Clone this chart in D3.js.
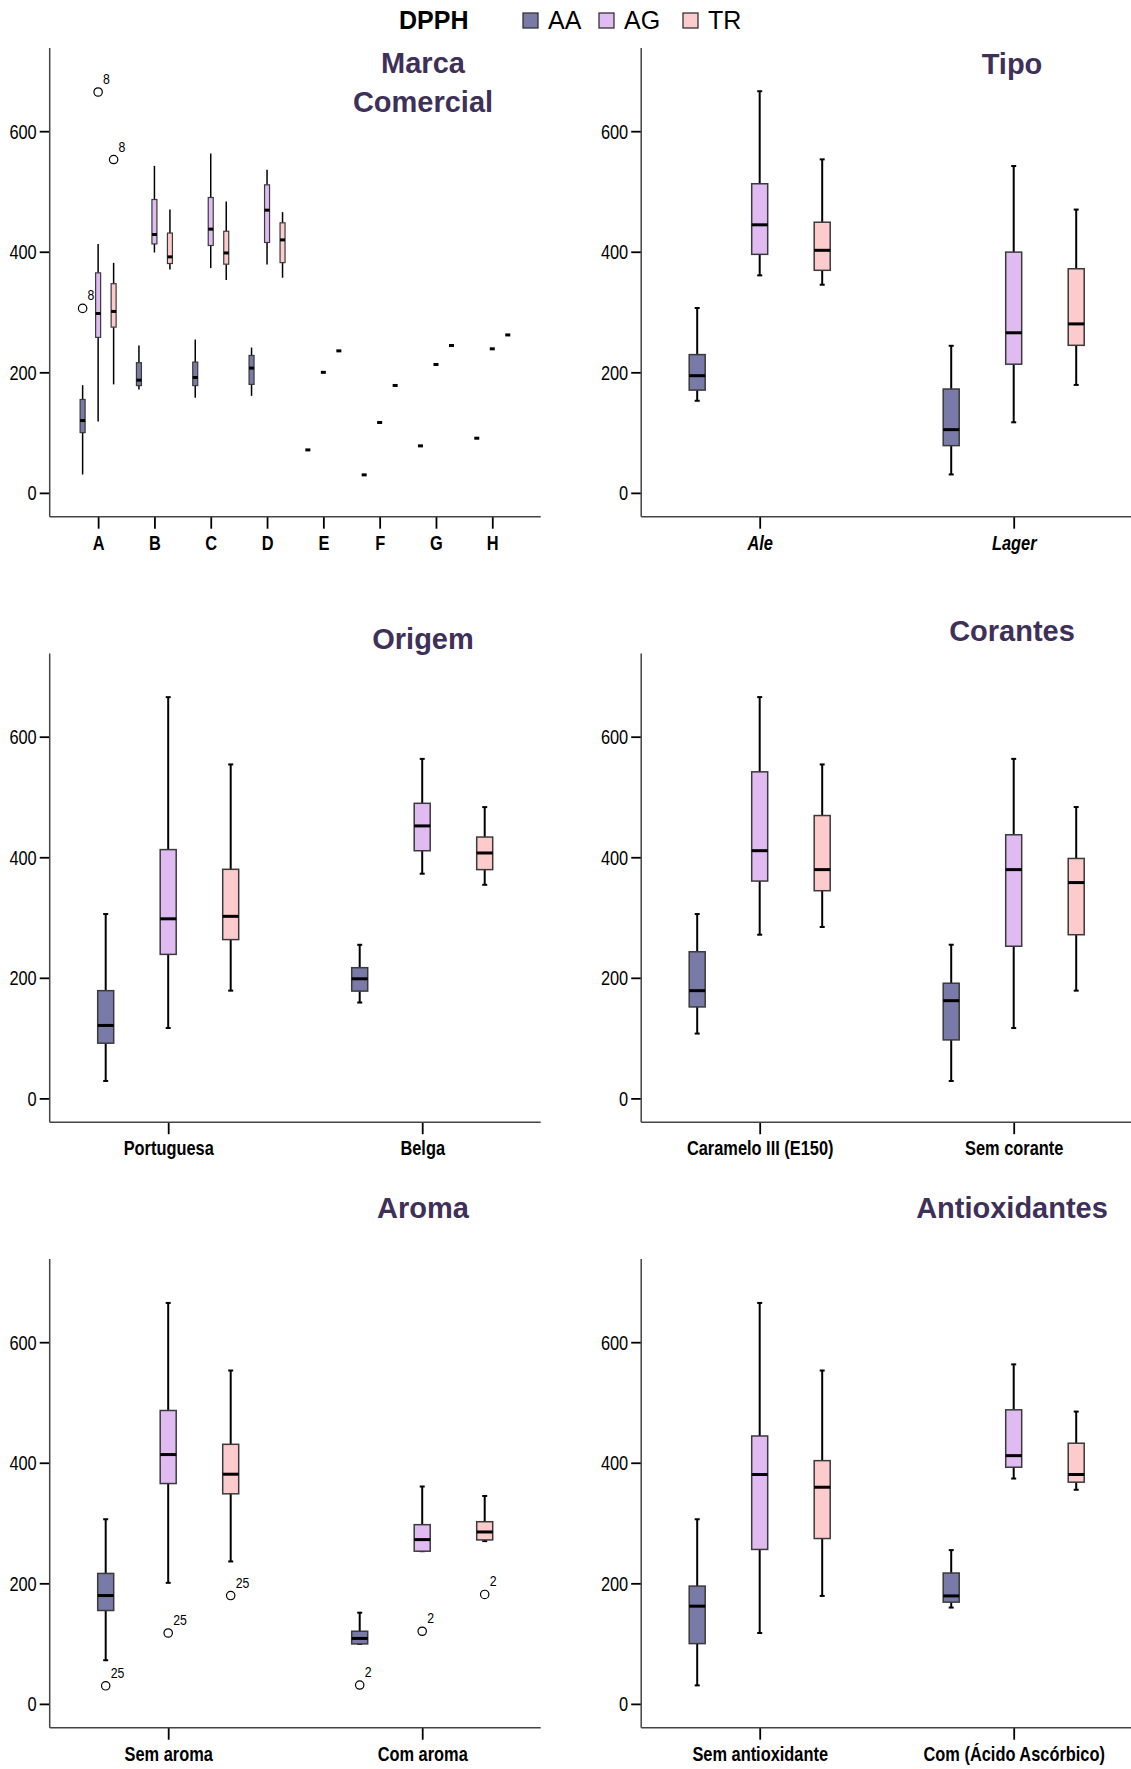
<!DOCTYPE html>
<html><head><meta charset="utf-8">
<script src="https://cdn.jsdelivr.net/npm/d3@7"></script>
<style>body{margin:0;background:#fff}svg{display:block}</style>
</head><body>
<svg id="c" width="1131" height="1769"></svg>
<script>
// ---------------- DATA ----------------
const series = ["AA", "AG", "TR"];
const legendTitle = "DPPH";
const yTicks = [0, 200, 400, 600];
// stats per box: [lower whisker, Q1, median, Q3, upper whisker]

// Marca Comercial
const marcaCats = ["A", "B", "C", "D", "E", "F", "G", "H"];
const marcaAA = [[30.5,100,120,155,178.7],[171.5,178,187,216,244.5],[158,178,191.4,217,254.5],[161,180,207,228,241],[71.3,71.3,71.3,71.3,71.3],[29.9,29.9,29.9,29.9,29.9],[78,78,78,78,78],[90.7,90.7,90.7,90.7,90.7]];
const marcaAG = [[118.5,258,297.6,365,413],[398.8,413,428.6,486.7,542.5],[372.8,410.4,437.5,490,563],[379,415.4,469,511,536],[200,200,200,200,200],[116.8,116.8,116.8,116.8,116.8],[213,213,213,213,213],[239,239,239,239,239]];
const marcaTR = [[180,275,301,347,381.6],[370.6,380.5,391.5,431,470],[353,379.4,398,434,483.4],[357,382,419.7,448,465.7],[235.6,235.6,235.6,235.6,235.6],[178.2,178.2,178.2,178.2,178.2],[244.5,244.5,244.5,244.5,244.5],[262,262,262,262,262]];
const marcaOutliers = [["A","AA",306,"8"],["A","AG",665,"8"],["A","TR",553,"8"]];

// Tipo
const tipoCats = ["Ale", "Lager"];
const tipoAA = [[152.8,170.5,194.4,229.4,306.7],[30.6,78.4,104.9,172.3,244]];
const tipoAG = [[360.8,395.7,444.7,512.8,666.3],[117.1,213.5,265.6,399.4,542.2]];
const tipoTR = [[345.3,369.2,402.4,449,553.3],[179.1,244.8,280.3,371.8,470]];
const tipoOutliers = [];

// Origem
const origemCats = ["Portuguesa", "Belga"];
const origemAA = [[28.9,91.6,121,178.7,305.8],[159,178,198.4,216.8,254.8]];
const origemAG = [[116.7,238.9,297.9,412.7,665.6],[372.7,410.8,452,489.5,563.2]];
const origemTR = [[178.7,263.4,302,380,554],[354.3,379.5,407.1,433.5,483.2]];
const origemOutliers = [];

// Corantes
const corantesCats = ["Caramelo III (E150)", "Sem corante"];
const corantesAA = [[107.5,151.7,178.7,243.2,305.8],[28.9,97,162.1,191,254.9]];
const corantesAG = [[271.5,360.5,410.9,541.7,665.7],[116.7,252.4,379.5,437.3,563.2]];
const corantesTR = [[284.3,344.5,379.5,469.2,554],[178.7,271.5,358,398,483.3]];
const corantesOutliers = [];

// Aroma
const aromaCats = ["Sem aroma", "Com aroma"];
const aromaAA = [[72.4,154.9,179.7,216.4,306.3],[99.5,99.5,108.6,120.5,151.3]];
const aromaAG = [[200.8,365.5,413.6,486.7,665.1],[253.3,253.3,272.5,297.3,360.6]];
const aromaTR = [[236.3,348.5,381,430.6,553],[270,272,285.2,302.2,344.9]];
const aromaOutliers = [["Sem aroma","AA",30,"25"],["Sem aroma","AG",117.6,"25"],["Sem aroma","TR",179.7,"25"],
                       ["Com aroma","AA",31.3,"2"],["Com aroma","AG",120.5,"2"],["Com aroma","TR",181.5,"2"]];

// Antioxidantes
const antioxCats = ["Sem antioxidante", "Com (Ácido Ascórbico)"];
const antioxAA = [[30.7,100,162.1,195.4,306.3],[159.8,168.8,179.1,217.1,255.1]];
const antioxAG = [[117.6,256.2,380.5,444.4,665.1],[373.8,392.6,411.8,487.8,563.2]];
const antioxTR = [[179.1,274.3,359.4,403.5,553],[355.2,367.8,380.5,432.4,484.9]];
const antioxOutliers = [];

// ---------------- STYLE / LAYOUT ----------------
const colors = {AA: "#7a7aa8", AG: "#dfbbf2", TR: "#fdcbcb"};
const titleColor = "#3e3058";
const FONT = "'Liberation Sans', Arial, sans-serif";
const NARROW = 0.82;
const colX = [49.7, 641.2];
const rowTop = [48, 653.5, 1259];
const plotH = 468.7, plotW = 491;
const yDomain = [-39.5, 738];

const panels = [
  {title:["Marca","Comercial"], titleX:423, titleY:[72.7,111.7], cats:marcaCats, data:[marcaAA,marcaAG,marcaTR], out:marcaOutliers, col:0, row:0, pad:0.86, spread:15.5, bw:5, cap:0, wl:1.5, italic:false},
  {title:["Tipo"], titleX:1012, titleY:[74], cats:tipoCats, data:[tipoAA,tipoAG,tipoTR], out:tipoOutliers, col:1, row:0, pad:0.4665, spread:62.5, bw:16, cap:5, wl:2, italic:true},
  {title:["Origem"], titleX:423, titleY:[649], cats:origemCats, data:[origemAA,origemAG,origemTR], out:origemOutliers, col:0, row:1, pad:0.4665, spread:62.5, bw:16, cap:5, wl:2, italic:false},
  {title:["Corantes"], titleX:1012, titleY:[641], cats:corantesCats, data:[corantesAA,corantesAG,corantesTR], out:corantesOutliers, col:1, row:1, pad:0.4665, spread:62.5, bw:16, cap:5, wl:2, italic:false},
  {title:["Aroma"], titleX:423, titleY:[1218], cats:aromaCats, data:[aromaAA,aromaAG,aromaTR], out:aromaOutliers, col:0, row:2, pad:0.4665, spread:62.5, bw:16, cap:5, wl:2, italic:false},
  {title:["Antioxidantes"], titleX:1012, titleY:[1218], cats:antioxCats, data:[antioxAA,antioxAG,antioxTR], out:antioxOutliers, col:1, row:2, pad:0.4665, spread:62.5, bw:16, cap:5, wl:2, italic:false}
];

const svg = d3.select("#c");
svg.append("rect").attr("width",1131).attr("height",1769).attr("fill","#fff");

// Legend
const legend = svg.append("g");
legend.append("text").attr("x",399).attr("y",29).attr("font-family",FONT).attr("font-weight","bold")
  .attr("font-size",25).attr("fill","#000").text(legendTitle);
const legSq = [523, 599, 683];
series.forEach((s,i)=>{
  legend.append("rect").attr("x",legSq[i]).attr("y",13).attr("width",15).attr("height",15)
    .attr("fill",colors[s]).attr("stroke","#333").attr("stroke-width",1.3);
  legend.append("text").attr("x",legSq[i]+25).attr("y",29).attr("font-family",FONT)
    .attr("font-size",25).attr("fill","#000").text(s);
});

panels.forEach(p=>{
  const x0 = colX[p.col], top = rowTop[p.row], bottom = top + plotH;
  const g = svg.append("g");
  const y = d3.scaleLinear().domain(yDomain).range([bottom, top]);
  const x = d3.scalePoint().domain(p.cats).range([x0, x0+plotW]).padding(p.pad);
  const xs = d3.scalePoint().domain(series).range([-p.spread, p.spread]);

  // Title
  p.title.forEach((t,i)=>{
    g.append("text").attr("x",p.titleX).attr("y",p.titleY[i]).attr("text-anchor","middle")
      .attr("font-family",FONT).attr("font-weight","bold").attr("font-size",29)
      .attr("fill",titleColor).text(t);
  });

  // Y axis
  const ya = g.append("g").attr("transform",`translate(${x0},0)`)
    .call(d3.axisLeft(y).tickValues(yTicks).tickSize(10).tickPadding(3).tickFormat(d3.format("d")));
  ya.select(".domain").remove();
  ya.selectAll(".tick line").attr("stroke","#000").attr("stroke-width",1.8);
  ya.selectAll(".tick text").attr("font-family",FONT).attr("font-size",20).attr("fill","#000")
    .attr("transform",`scale(${NARROW},1)`).attr("x",-13/NARROW).attr("dy","0.35em");

  // X axis
  const xa = g.append("g").attr("transform",`translate(0,${bottom})`)
    .call(d3.axisBottom(x).tickSize(12).tickPadding(3));
  xa.select(".domain").remove();
  xa.selectAll(".tick line").attr("stroke","#000").attr("stroke-width",1.8);
  xa.selectAll(".tick text").attr("font-family",FONT).attr("font-size",20).attr("font-weight","bold")
    .attr("font-style",p.italic?"italic":"normal").attr("fill","#000")
    .attr("transform",`scale(${NARROW},1)`).attr("y",33).attr("dy",null);

  // axis lines
  g.append("line").attr("x1",x0).attr("x2",x0).attr("y1",top).attr("y2",bottom)
    .attr("stroke","#444").attr("stroke-width",1.5);
  g.append("line").attr("x1",x0).attr("x2",x0+plotW).attr("y1",bottom).attr("y2",bottom)
    .attr("stroke","#444").attr("stroke-width",1.5);

  // boxes
  series.forEach((s,si)=>{
    p.data[si].forEach((st,ci)=>{
      const cx = x(p.cats[ci]) + xs(s);
      const [lo,q1,md,q3,hi] = st;
      if (hi - lo < 0.001) {
        g.append("rect").attr("x",cx-2.5).attr("y",y(md)-1.5).attr("width",5).attr("height",3).attr("fill","#000");
        return;
      }
      g.append("line").attr("x1",cx).attr("x2",cx).attr("y1",y(q3)).attr("y2",y(hi))
        .attr("stroke","#000").attr("stroke-width",p.wl);
      g.append("line").attr("x1",cx).attr("x2",cx).attr("y1",y(q1)).attr("y2",y(lo))
        .attr("stroke","#000").attr("stroke-width",p.wl);
      if (p.cap>0) {
        [hi,lo].forEach(v=>{
          g.append("line").attr("x1",cx-p.cap/2).attr("x2",cx+p.cap/2).attr("y1",y(v)).attr("y2",y(v))
            .attr("stroke","#000").attr("stroke-width",2);
        });
      }
      g.append("rect").attr("x",cx-p.bw/2).attr("y",y(q3)).attr("width",p.bw).attr("height",Math.max(0.5,y(q1)-y(q3)))
        .attr("fill",colors[s]).attr("stroke","#3a3a3a").attr("stroke-width",p.bw>8?1.5:1.2);
      g.append("line").attr("x1",cx-p.bw/2).attr("x2",cx+p.bw/2).attr("y1",y(md)).attr("y2",y(md))
        .attr("stroke","#000").attr("stroke-width",3);
    });
  });

  // outliers
  p.out.forEach(o=>{
    const cx = x(o[0]) + xs(o[1]), cy = y(o[2]);
    g.append("circle").attr("cx",cx).attr("cy",cy).attr("r",4.2)
      .attr("fill","none").attr("stroke","#000").attr("stroke-width",1.2);
    g.append("text").attr("transform",`translate(${cx+5},${cy-8}) scale(${NARROW},1)`)
      .attr("font-family",FONT).attr("font-size",15).attr("fill","#000").text(o[3]);
  });
});
</script>
</body></html>
